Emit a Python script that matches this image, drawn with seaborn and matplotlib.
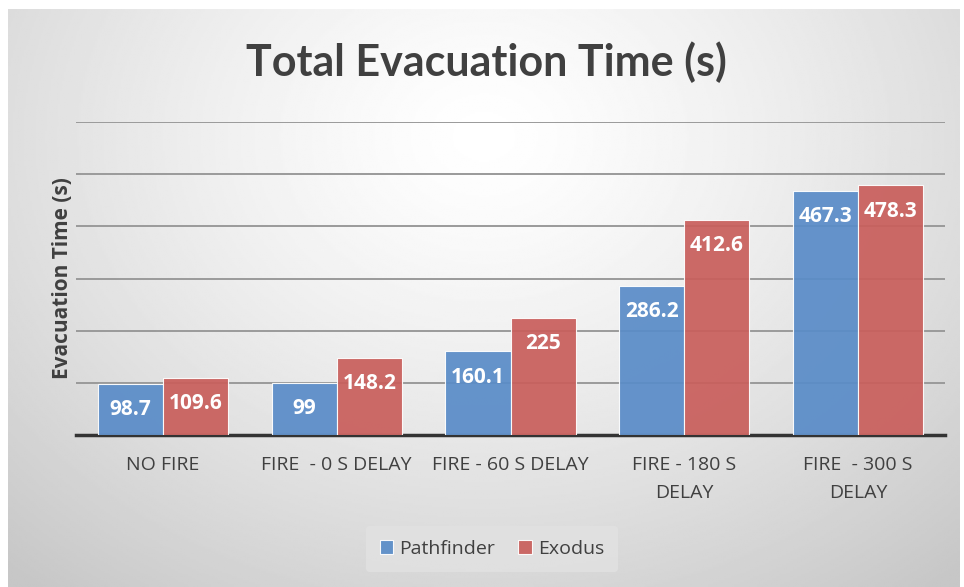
import numpy as np
import pandas as pd
import matplotlib
matplotlib.use('Agg')
import matplotlib.pyplot as plt
import seaborn as sns

# chart values
scenarios = ["NO FIRE", "FIRE  - 0 S DELAY", "FIRE - 60 S DELAY",
             "FIRE - 180 S\nDELAY", "FIRE  - 300 S\nDELAY"]
pathfinder = [98.7, 99, 160.1, 286.2, 467.3]
exodus = [109.6, 148.2, 225, 412.6, 478.3]
models = ["Pathfinder", "Exodus"]
colors = ["#5A8CC8", "#C95F5C"]

df = pd.DataFrame({
    "scenario": scenarios * 2,
    "model": [models[0]] * len(scenarios) + [models[1]] * len(scenarios),
    "time": pathfinder + exodus,
})

sns.set_theme(style="white")
plt.rcParams['font.family'] = ['Open Sans', 'DejaVu Sans']

fig = plt.figure(figsize=(9.64, 5.87), dpi=100)
fig.patch.set_facecolor("white")

# radial grey background like the office chart style
bg = fig.add_axes([8 / 964, 0, 952 / 964, 578 / 587], zorder=-10)
yy, xx = np.mgrid[0:1:300j, 0:1:500j]
r = np.sqrt(((xx - 0.5) / 0.75) ** 2 + ((yy - 0.22) / 1.0) ** 2)
shade = 1.0 - 0.22 * np.clip(r, 0, 1) ** 1.3
bg.imshow(shade, cmap="gray", vmin=0, vmax=1, aspect="auto", extent=[0, 1, 1, 0])
bg.axis("off")

ax = fig.add_axes([76 / 964, 1 - 435 / 587, (945 - 76) / 964, (435 - 122) / 587])
ax.set_facecolor("none")

sns.barplot(data=df, x="scenario", y="time", hue="model", palette=colors,
            saturation=1, width=0.75, alpha=0.93, edgecolor="white", linewidth=0.8,
            ax=ax, legend=True, zorder=3)

ax.set_ylim(0, 600)
ax.set_yticks(np.arange(100, 601, 100))
ax.yaxis.grid(True, color="#9a9a9a", linewidth=1.4, zorder=0)
ax.set_axisbelow(True)
ax.tick_params(axis="y", left=False, labelleft=False)
ax.tick_params(axis="x", bottom=False, labelsize=14, labelcolor="#404040", pad=9)
for lbl in ax.get_xticklabels():
    lbl.set_linespacing(1.75)
for s in ["top", "right", "left"]:
    ax.spines[s].set_visible(False)
ax.spines["bottom"].set_color("#333333")
ax.spines["bottom"].set_linewidth(2.5)
ax.set_xlabel("")
ax.set_ylabel("Evacuation Time (s)", fontsize=15, fontweight="bold",
              color="#404040", labelpad=2)

for cont in ax.containers:
    labels = ["{:g}".format(v) for v in cont.datavalues]
    ax.bar_label(cont, labels=labels, label_type="edge", padding=-26,
                 color="white", fontsize=15, fontweight="bold")

fig.text(0.505, 0.894, "Total Evacuation Time (s)", ha="center", va="center",
         fontsize=31, fontweight="bold", color="#404040", family=["Lato", "DejaVu Sans"])

leg = ax.legend(loc="center", bbox_to_anchor=(492 / 964, 1 - 549 / 587),
                bbox_transform=fig.transFigure, ncol=2, frameon=True,
                fontsize=14, handlelength=0.7, handleheight=0.7,
                handletextpad=0.3, columnspacing=1.2, borderpad=0.7)
leg.get_frame().set_facecolor("#e2e2e2")
leg.get_frame().set_edgecolor("none")
for t in leg.get_texts():
    t.set_color("#404040")

fig.savefig("out.png", dpi=100)
